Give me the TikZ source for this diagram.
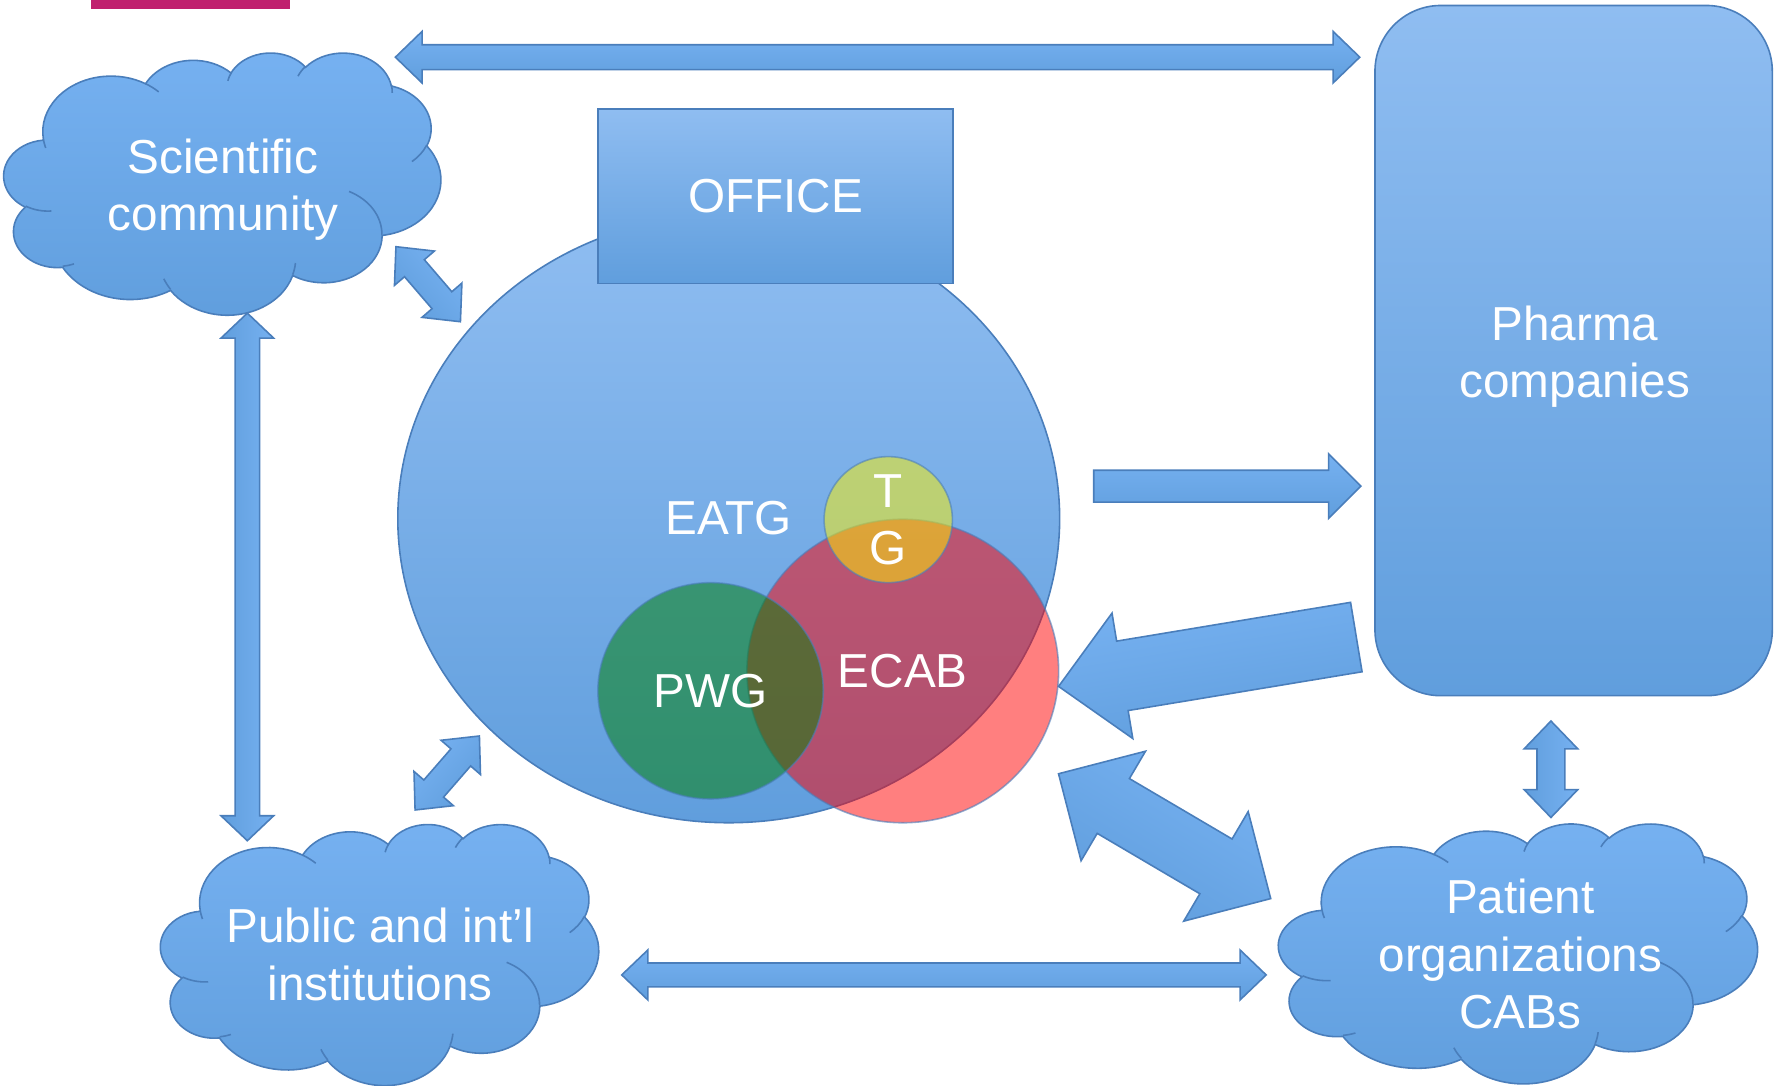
\documentclass[tikz,border=0pt]{standalone}
\usepackage{fontspec}
\setmainfont{Liberation Sans}
\usepackage{tikz}
\usetikzlibrary{shapes.geometric}

\definecolor{bluetop}{RGB}{143,189,241}
\definecolor{bluemid}{RGB}{118,177,241}
\definecolor{bluebot}{RGB}{96,158,221}
\definecolor{blueline}{RGB}{74,126,187}
\definecolor{barpink}{RGB}{192,32,110}
\definecolor{pwggreen}{RGB}{0,128,0}

% arc of the cloud outline: x radius, y radius, start and sweep angle
\newcommand\cloudarc[4]{arc[start angle={atan2(#1*sin(#3),#2*cos(#3))},
  delta angle={mod(atan2(#1*sin(#3+#4),#2*cos(#3+#4))-atan2(#1*sin(#3),#2*cos(#3))+720,360)},
  x radius=#1, y radius=#2]}

\tikzset{
  blueshape/.style={draw=blueline, line width=0.4pt, top color=bluetop, middle color=bluemid, bottom color=bluebot},
  darkshape/.style={draw=blueline, line width=0.4pt, top color=bluemid, bottom color=bluebot},
  txt/.style={text=white, font=\fontsize{11.95}{14.37}\selectfont, align=center, inner sep=0pt},
  blob/.style={ellipse, inner sep=0pt, draw=blueline, line width=0.4pt, draw opacity=0.6, fill opacity=0.5, text opacity=1, txt},
  pics/cloud/.style 2 args={code={
    \begin{scope}[xscale=#1/432, yscale=#2/432]
      \path[darkshape] (39.00,143.70)
        \cloudarc{67.53}{91.90}{-190.48748}{123.78053}
        \cloudarc{53.33}{72.67}{-144.10238}{89.94523}
        \cloudarc{43.65}{59.45}{-145.80792}{99.72302}
        \cloudarc{48.57}{65.95}{-130.98607}{117.24173}
        \cloudarc{53.33}{72.73}{-78.70888}{109.02692}
        \cloudarc{67.75}{92.20}{-46.26725}{130.269}
        \cloudarc{57.85}{78.67}{0.62502}{114.03333}
        \cloudarc{67.52}{92.15}{22.4516}{115.17255}
        \cloudarc{77.20}{105.43}{66.24263}{75.71102}
        \cloudarc{43.60}{59.18}{-274.94208}{146.73557}
        \cloudarc{43.45}{59.45}{-246.8285}{152.51885}
        -- cycle;
      \draw[blueline, line width=0.4pt]
        (46.93,261.77) \cloudarc{43.45}{59.45}{86.742}{26.4295}
        (69.28,348.99) \cloudarc{43.60}{59.18}{73.61047}{11.44747}
        (164.78,390.90) \cloudarc{67.52}{92.15}{137.62415}{14.0811}
        (288.27,347.51) \cloudarc{67.52}{92.15}{6.45327}{15.99835}
        (341.29,229.54) \cloudarc{57.85}{78.67}{-70.29235}{70.91737}
        (417.98,153.54) \cloudarc{53.33}{72.73}{30.31803}{27.7515}
        (383.24,54.26) \cloudarc{48.57}{65.95}{-13.74433}{14.8589}
        (290.78,39.52) \cloudarc{48.57}{65.95}{-149.18145}{18.19537}
        (221.41,47.20) \cloudarc{43.65}{59.45}{-163.49427}{17.68635}
        (140.00,51.92) \cloudarc{67.53}{91.90}{-66.70695}{12.31935}
        (41.27,157.89) \cloudarc{67.53}{91.90}{157.65435}{11.85817};
    \end{scope}
  }},
  % half length / half shaft / half head / head length / angle
  pics/twohead/.style args={#1/#2/#3/#4/#5}{code={
    \path[darkshape, shading angle={mod(#5+450,180)-90}, rotate=#5]
      (-#1,0) -- (-#1+#4,-#3) -- (-#1+#4,-#2) -- (#1-#4,-#2) -- (#1-#4,-#3) -- (#1,0)
      -- (#1-#4,#3) -- (#1-#4,#2) -- (-#1+#4,#2) -- (-#1+#4,#3) -- cycle;
  }},
  pics/onehead/.style args={#1/#2/#3/#4/#5}{code={
    \path[darkshape, shading angle={mod(#5+450,180)-90}, rotate=#5]
      (-#1,-#2) -- (#1-#4,-#2) -- (#1-#4,-#3) -- (#1,0)
      -- (#1-#4,#3) -- (#1-#4,#2) -- (-#1,#2) -- cycle;
  }},
}

\begin{document}
\begin{tikzpicture}[x=0.01cm, y=-0.01cm]
  \useasboundingbox (0,0) rectangle (1568,957);
  \fill[barpink] (80,0) rectangle (255.5,7.6);

  % clouds
  \pic at (3.5,46) {cloud={385}{231}};
  \pic at (141.6,726) {cloud={386}{230}};
  \pic at (1127,725.5) {cloud={422}{229}};
  \node[txt] (sci) at (196.5,166.9) {Scientific\\community};
  \node[txt] (pub) at (335,841.2) {Public and int’l\\institutions};
  \node[txt] (pat) at (1340,841) {Patient\\organizations\\CABs};

  \node[blueshape, rounded corners=0.58cm, minimum width=3.5cm, minimum height=6.08cm] (pharma) at (1387,309) {};
  \node[txt] (pharmatxt) at (1388,314.2) {Pharma\\companies};

  % block arrows
  \pic at (773.5,50.4) {twohead=425/11/22.7/23.5/0};
  \pic at (218,508.5) {twohead=232.5/10.8/23.2/22/-90};
  \pic at (832,859.3) {twohead=284/10.5/22/23/0};
  \pic at (1367,678) {twohead=42.5/12.3/23.6/24.5/-90};
  \pic at (377.4,250.5) {twohead=43.6/11.5/23.2/25/-49.33};
  \pic at (394.2,681.3) {twohead=43.2/11.5/23/25/49};
  \pic at (1026.5,737) {twohead=108.5/28/56/56/-30.47};
  \pic at (1081.75,428.5) {onehead=117.75/14/28.5/28.5/0};
  \pic at (1064.25,583.25) {onehead=133/31/56/57/189.41};

  % EATG and its groups
  \node[blueshape, ellipse, minimum width=5.83cm, minimum height=5.36cm, txt] (eatg) at (642.3,457) {EATG};
  \node[blueshape, minimum width=3.13cm, minimum height=1.54cm, txt] (office) at (683.5,173) {OFFICE};
  \node[blob, fill=red, minimum width=2.746cm, minimum height=2.674cm] (ecab) at (795.7,591.4) {ECAB};
  \node[blob, fill=pwggreen, minimum width=1.986cm, minimum height=1.906cm] (pwg) at (626.3,608.9) {PWG};
  \node[blob, fill=yellow, minimum width=1.13cm, minimum height=1.11cm] (tg) at (782.9,458) {};
  \node[txt] (tgtxt) at (tg) {T\\G};
\end{tikzpicture}
\end{document}
